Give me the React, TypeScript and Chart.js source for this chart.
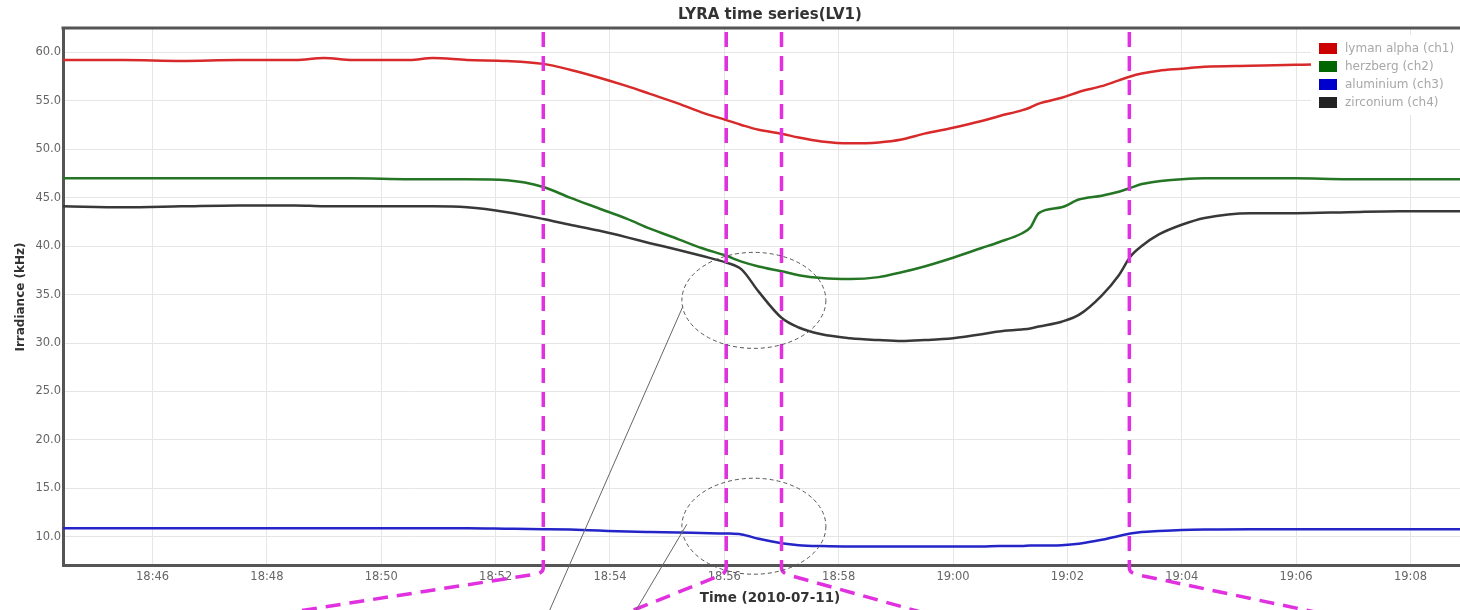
import React, { useEffect, useRef } from "react";
import { Chart, registerables } from "chart.js";

Chart.register(...registerables);

// ---- data ----
const TIMES = [
  "18:44:26", "18:45:30", "18:46:30", "18:47:30", "18:48:30", "18:49:00", "18:49:30", "18:50:30",
  "18:50:54", "18:51:30", "18:52:12", "18:52:50", "18:53:18", "18:53:48", "18:54:18", "18:54:42",
  "18:55:12", "18:55:36", "18:56:02", "18:56:18", "18:56:36", "18:57:00", "18:57:18", "18:57:42",
  "18:58:12", "18:58:42", "18:59:06", "18:59:30", "19:00:00", "19:00:30", "19:00:48", "19:01:12",
  "19:01:21", "19:01:30", "19:01:54", "19:02:12", "19:02:36", "19:02:54", "19:03:06", "19:03:18",
  "19:03:36", "19:04:00", "19:04:24", "19:05:12", "19:06:00", "19:06:54", "19:07:48", "19:08:52",
];

const LYMAN_ALPHA = [
  59.2, 59.2, 59.1, 59.2, 59.2, 59.4, 59.2, 59.2,
  59.4, 59.2, 59.1, 58.8, 58.2, 57.4, 56.5, 55.7,
  54.7, 53.8, 53.0, 52.5, 52.0, 51.6, 51.2, 50.8,
  50.6, 50.7, 51.0, 51.6, 52.2, 52.9, 53.4, 54.0,
  54.3, 54.7, 55.3, 55.9, 56.5, 57.1, 57.5, 57.8,
  58.1, 58.3, 58.5, 58.6, 58.7, 58.8, 58.8, 58.8,
];

const HERZBERG = [
  47.0, 47.0, 47.0, 47.0, 47.0, 47.0, 47.0, 46.9,
  46.9, 46.9, 46.8, 46.1, 45.0, 43.9, 42.8, 41.8,
  40.7, 39.8, 39.0, 38.4, 37.9, 37.4, 37.0, 36.7,
  36.6, 36.8, 37.3, 37.9, 38.8, 39.8, 40.4, 41.3,
  41.9, 43.4, 44.0, 44.8, 45.2, 45.6, 46.0, 46.4,
  46.7, 46.9, 47.0, 47.0, 47.0, 46.9, 46.9, 46.9,
];

const ALUMINIUM = [
  10.9, 10.9, 10.9, 10.9, 10.9, 10.9, 10.9, 10.9,
  10.9, 10.9, 10.85, 10.8, 10.75, 10.65, 10.55, 10.5,
  10.45, 10.4, 10.35, 10.25, 9.8, 9.35, 9.15, 9.05,
  9.0, 9.0, 9.0, 9.0, 9.0, 9.0, 9.05, 9.05,
  9.1, 9.1, 9.15, 9.3, 9.7, 10.1, 10.35, 10.5,
  10.6, 10.7, 10.75, 10.8, 10.8, 10.8, 10.8, 10.8,
];

const ZIRCONIUM = [
  44.1, 44.0, 44.1, 44.2, 44.2, 44.1, 44.1, 44.1,
  44.1, 44.0, 43.5, 42.8, 42.2, 41.6, 40.9, 40.3,
  39.6, 39.0, 38.3, 37.6, 35.3, 32.6, 31.6, 30.9,
  30.5, 30.3, 30.2, 30.3, 30.5, 30.9, 31.2, 31.4,
  31.5, 31.7, 32.2, 32.9, 34.9, 37.0, 38.9, 40.0,
  41.2, 42.2, 42.9, 43.4, 43.4, 43.5, 43.6, 43.6,
];

const SERIES_LABELS = ["lyman alpha (ch1)", "herzberg (ch2)", "aluminium (ch3)", "zirconium (ch4)"];
const LINE_COLORS = ["#d82a2a", "#247524", "#2424c8", "#383838"];
const LEGEND_COLORS = ["#cc0000", "#006600", "#0000cc", "#222222"];

const X_TICKS = ["18:46", "18:48", "18:50", "18:52", "18:54", "18:56", "18:58", "19:00", "19:02", "19:04", "19:06", "19:08"];
const Y_TICKS = [10, 15, 20, 25, 30, 35, 40, 45, 50, 55, 60];
const X_RANGE = ["18:44:26", "19:08:52"];
const Y_RANGE = [7.1, 62.5];

const TITLE = "LYRA time series(LV1)";
const X_TITLE = "Time (2010-07-11)";
const Y_TITLE = "Irradiance (kHz)";

// zoom-in markers (times) and the circled values
const MARK_TIMES = ["18:52:50", "18:56:02", "18:57:00", "19:03:05"];
const CIRCLE_VALUES = [34.4, 11.1];

// ---- helpers ----
const toMin = (s: string) => {
  const p = s.split(":").map(Number);
  return (p[0] - 18) * 60 + p[1] + (p[2] || 0) / 60;
};
const fmtMin = (v: number) => {
  const tot = Math.round(v);
  const h = 18 + Math.floor(tot / 60);
  const m = tot % 60;
  return `${h}:${String(m).padStart(2, "0")}`;
};

const FONT = "'DejaVu Sans', sans-serif";

const overlayPlugin = {
  id: "overlay",
  afterDatasetsDraw(chart: any) {
    const { ctx, chartArea: a, scales } = chart;
    const x = scales.x;
    const y = scales.y;
    ctx.save();

    // top frame line
    ctx.strokeStyle = "#555";
    ctx.lineWidth = 3;
    ctx.beginPath();
    ctx.moveTo(a.left - 1.5, a.top);
    ctx.lineTo(a.right, a.top);
    ctx.stroke();

    // legend
    ctx.fillStyle = "#ffffff";
    ctx.fillRect(1311, 35, 150, 80);
    ctx.font = `12px ${FONT}`;
    ctx.textBaseline = "middle";
    ctx.textAlign = "left";
    SERIES_LABELS.forEach((lab, i) => {
      const ry = 43 + i * 18;
      ctx.fillStyle = LEGEND_COLORS[i];
      ctx.fillRect(1319, ry, 18, 11);
      ctx.fillStyle = "#a8a8a8";
      ctx.fillText(lab, 1345, ry + 6);
    });

    // magenta zoom markers
    const px = MARK_TIMES.map((t) => x.getPixelForValue(toMin(t)));
    const dirs = [
      [-1, 0.155],
      [-1, 0.4],
      [1, 0.28],
      [1, 0.21],
    ];
    ctx.strokeStyle = "#e030e0";
    ctx.lineWidth = 3.5;
    ctx.setLineDash([15, 9]);
    ctx.lineCap = "butt";
    px.forEach((p, i) => {
      const [d, s] = dirs[i];
      const yb = a.bottom + 3;
      ctx.beginPath();
      ctx.moveTo(p, a.top + 4);
      ctx.lineTo(p, yb);
      ctx.quadraticCurveTo(p, yb + 5, p + d * 8, yb + 5 + 8 * s);
      ctx.lineTo(p + d * 600, yb + 5 + 600 * s);
      ctx.stroke();
    });

    // dashed ellipses
    const cx = (px[1] + px[2]) / 2;
    ctx.strokeStyle = "#555";
    ctx.lineWidth = 1;
    ctx.setLineDash([4, 3]);
    const cys = CIRCLE_VALUES.map((v) => y.getPixelForValue(v));
    cys.forEach((cy) => {
      ctx.beginPath();
      ctx.ellipse(cx, cy, 72, 48, 0, 0, Math.PI * 2);
      ctx.stroke();
    });

    // pointer lines
    ctx.setLineDash([]);
    ctx.strokeStyle = "#666";
    ctx.lineWidth = 1;
    ctx.beginPath();
    ctx.moveTo(cx - 71, cys[0] + 6);
    ctx.lineTo(cx - 205, 612);
    ctx.moveTo(cx - 67, cys[1] - 2);
    ctx.lineTo(cx - 119, 612);
    ctx.stroke();

    ctx.restore();
  },
  afterDraw(chart: any) {
    const { ctx } = chart;
    ctx.save();
    ctx.fillStyle = "#333";
    ctx.textAlign = "center";
    ctx.textBaseline = "middle";
    ctx.font = `bold 15px ${FONT}`;
    ctx.fillText(TITLE, 770, 15);
    ctx.font = `bold 13.5px ${FONT}`;
    ctx.fillText(X_TITLE, 770, 598);
    ctx.translate(21, 297);
    ctx.rotate(-Math.PI / 2);
    ctx.font = `bold 12px ${FONT}`;
    ctx.fillText(Y_TITLE, 0, 0);
    ctx.restore();
  },
};

export default function App() {
  const ref = useRef<HTMLCanvasElement | null>(null);

  useEffect(() => {
    if (!ref.current) return;
    const xs = TIMES.map(toMin);
    const series = [LYMAN_ALPHA, HERZBERG, ALUMINIUM, ZIRCONIUM];
    const chart = new Chart(ref.current, {
      type: "line",
      data: {
        datasets: series.map((vals, i) => ({
          label: SERIES_LABELS[i],
          data: vals.map((v, j) => ({ x: xs[j], y: v })),
          borderColor: LINE_COLORS[i],
          backgroundColor: LINE_COLORS[i],
          borderWidth: 2.5,
          pointRadius: 0,
          tension: 0.3,
          cubicInterpolationMode: "monotone" as const,
          fill: false,
        })),
      },
      options: {
        responsive: false,
        animation: false,
        devicePixelRatio: 1,
        layout: { padding: { left: 0, right: 0, top: 28, bottom: 0 } },
        plugins: {
          legend: { display: false },
          title: { display: false },
          tooltip: { enabled: false },
        },
        scales: {
          x: {
            type: "linear",
            min: toMin(X_RANGE[0]),
            max: toMin(X_RANGE[1]),
            afterBuildTicks: (scale: any) => {
              scale.ticks = X_TICKS.map((t) => ({ value: toMin(t) }));
            },
            afterFit: (scale: any) => {
              scale.height = 45;
            },
            grid: { color: "#e6e6e6", lineWidth: 1, drawTicks: false },
            border: { display: true, color: "#555", width: 3 },
            ticks: {
              color: "#666",
              font: { family: FONT, size: 11.5 },
              padding: 5,
              maxRotation: 0,
              autoSkip: false,
              callback: (v: any) => fmtMin(Number(v)),
            },
          },
          y: {
            type: "linear",
            min: Y_RANGE[0],
            max: Y_RANGE[1],
            afterBuildTicks: (scale: any) => {
              scale.ticks = Y_TICKS.map((v) => ({ value: v }));
            },
            afterFit: (scale: any) => {
              scale.width = 63;
            },
            grid: { color: "#e6e6e6", lineWidth: 1, drawTicks: false },
            border: { display: true, color: "#555", width: 3 },
            ticks: {
              color: "#666",
              font: { family: FONT, size: 11.5 },
              padding: 2,
              autoSkip: false,
              callback: (v: any) => Number(v).toFixed(1),
            },
          },
        },
      },
      plugins: [overlayPlugin],
    });
    return () => chart.destroy();
  }, []);

  return (
    <div style={{ position: "absolute", left: 0, top: 0, width: 1460, height: 610, background: "#fff" }}>
      <canvas ref={ref} width={1460} height={610} style={{ display: "block" }} />
    </div>
  );
}
